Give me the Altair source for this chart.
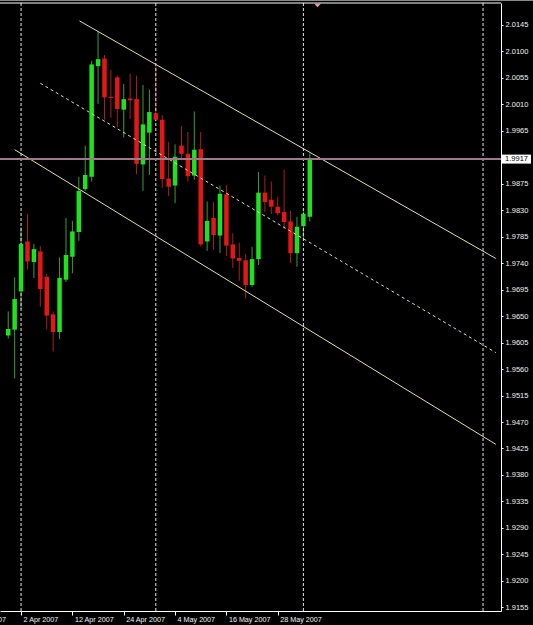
import altair as alt
import pandas as pd

# ---- data (daily GBP/USD-like candles) ----
bars = list(range(48))
opens = [1.9617, 1.9627, 1.9692, 1.9777, 1.9742, 1.9760, 1.9717, 1.9653, 1.9623, 1.9712,
         1.9751, 1.9793, 1.9866, 1.9887, 2.0075, 2.0088, 2.0023, 2.0056, 2.0001, 2.0020,
         2.0019, 1.9908, 1.9962, 1.9995, 1.9984, 1.9884, 1.9872, 1.9940, 1.9926, 1.9889,
         1.9934, 1.9777, 1.9817, 1.9787, 1.9857, 1.9772, 1.9749, 1.9745, 1.9703, 1.9747,
         1.9860, 1.9848, 1.9836, 1.9827, 1.9811, 1.9757, 1.9803, 1.9819]
highs = [1.9658, 1.9716, 1.9801, 1.9824, 1.9773, 1.9769, 1.9722, 1.9658, 1.9750, 1.9817,
         1.9812, 1.9887, 1.9940, 2.0084, 2.0134, 2.0094, 2.0069, 2.0059, 2.0045, 2.0062,
         2.0059, 2.0043, 2.0035, 2.0075, 1.9992, 1.9946, 1.9942, 1.9973, 1.9963, 1.9998,
         1.9963, 1.9845, 1.9844, 1.9872, 1.9873, 1.9791, 1.9775, 1.9756, 1.9768, 1.9895,
         1.9889, 1.9879, 1.9853, 1.9899, 1.9829, 1.9819, 1.9828, 1.9927]
lows = [1.9612, 1.9544, 1.9662, 1.9729, 1.9715, 1.9666, 1.9628, 1.9590, 1.9611, 1.9708,
        1.9723, 1.9778, 1.9863, 1.9879, 2.0011, 1.9984, 1.9987, 1.9971, 1.9954, 1.9985,
        1.9891, 1.9863, 1.9890, 1.9981, 1.9868, 1.9854, 1.9842, 1.9918, 1.9879, 1.9882,
        1.9769, 1.9761, 1.9763, 1.9757, 1.9752, 1.9732, 1.9710, 1.9680, 1.9700, 1.9737,
        1.9827, 1.9824, 1.9822, 1.9798, 1.9740, 1.9734, 1.9780, 1.9811]
closes = [1.9628, 1.9679, 1.9773, 1.9743, 1.9764, 1.9696, 1.9651, 1.9623, 1.9715, 1.9754,
          1.9794, 1.9863, 1.9890, 2.0078, 2.0087, 2.0022, 2.0021, 2.0002, 2.0019, 2.0017,
          1.9909, 1.9976, 1.9997, 1.9984, 1.9883, 1.9870, 1.9921, 1.9926, 1.9888, 1.9933,
          1.9772, 1.9812, 1.9788, 1.9858, 1.9770, 1.9748, 1.9744, 1.9703, 1.9747, 1.9860,
          1.9844, 1.9836, 1.9825, 1.9810, 1.9757, 1.9802, 1.9824, 1.9917]

# x-axis date labels (bar positions) and the clipped one at the far left
date_pos = [2, 10, 18, 26, 34, 42]
date_labels = ["2 Apr 2007", "12 Apr 2007", "24 Apr 2007", "4 May 2007", "16 May 2007", "28 May 2007"]
clipped_pos = [-6]
clipped_labels = ["21 Mar 2007"]

# y-axis tick labels (1.9920 is covered by the current-price tag)
y_ticks = [1.9155, 1.9200, 1.9245, 1.9290, 1.9335, 1.9380, 1.9425, 1.9470, 1.9515, 1.9560,
           1.9605, 1.9650, 1.9695, 1.9740, 1.9785, 1.9830, 1.9875, 1.9965, 2.0010, 2.0055,
           2.0100, 2.0145]

# period separators (bar positions)
sep_pos = [2, 23, 46, 74]

# channel lines (bar position, price)
upper_x = [11.1, 76.0]
upper_y = [2.0152, 1.9748]
mid_x = [5.0, 76.0]
mid_y = [2.0046, 1.9588]
lower_x = [1.0, 76.0]
lower_y = [1.9933, 1.9432]

current_price = [1.9917]
shift_pos = [48.2]

# ---- styling ----
W, H = 501, 608
FONT = "Liberation Sans"
GREEN_BODY, RED_BODY = "#1fe21f", "#e41616"
GREEN_WICK, RED_WICK = "#3a9e3a", "#a82020"
CHANNEL = "#e2dea4"
BID = "#9c7a8a"

df = pd.DataFrame({"i": bars, "open": opens, "high": highs, "low": lows, "close": closes})

xscale = alt.Scale(domain=[-0.504, 76.02], nice=False, zero=False)
yscale = alt.Scale(domain=[1.91487, 2.01824], nice=False, zero=False)

label_expr = " : ".join(f"datum.value == {p} ? '{l}'" for p, l in zip(date_pos, date_labels)) + " : ''"

x_axis = alt.Axis(orient="bottom", values=date_pos, labelExpr=label_expr, grid=False, title=None,
                  domainColor="#ffffff", domainWidth=1, tickColor="#ffffff", tickSize=4, tickWidth=1,
                  labelColor="#f2f2f2", labelFont=FONT, labelFontSize=7.2, labelAlign="left",
                  labelBaseline="middle", labelPadding=4.5, labelOffset=2,
                  labelOverlap=False, labelFlush=False, labelBound=False)
y_axis = alt.Axis(orient="right", values=y_ticks, format=".4f", grid=False, title=None,
                  domainColor="#ffffff", domainWidth=1, tickColor="#ffffff", tickSize=2,
                  labelColor="#f2f2f2", labelFont=FONT, labelFontSize=7.5, labelPadding=2,
                  labelBaseline="middle", labelOverlap=False, labelFlush=False, labelBound=False)

X = alt.X("i:Q", scale=xscale, axis=x_axis)
is_up = "datum.close >= datum.open"

wicks = alt.Chart(df).mark_rule(strokeWidth=1).encode(
    x=X,
    y=alt.Y("low:Q", scale=yscale, axis=y_axis),
    y2="high:Q",
    color=alt.condition(is_up, alt.value(GREEN_WICK), alt.value(RED_WICK)),
)

bodies = alt.Chart(df).mark_bar(width=4.5, strokeWidth=0).encode(
    x=X,
    y=alt.Y("open:Q", scale=yscale, axis=y_axis),
    y2="close:Q",
    color=alt.condition(is_up, alt.value(GREEN_BODY), alt.value(RED_BODY)),
)

seps = alt.Chart(pd.DataFrame({"i": sep_pos})).mark_rule(
    color="#e6e6e6", strokeWidth=1, strokeDash=[3, 2]
).encode(x=X)

bid = alt.Chart(pd.DataFrame({"p": current_price})).mark_rule(color=BID, strokeWidth=2).encode(
    y=alt.Y("p:Q", scale=yscale, axis=y_axis))

def line(xs, ys, dash=None):
    kw = dict(color=CHANNEL, strokeWidth=1, clip=True)
    if dash:
        kw["strokeDash"] = dash
    return alt.Chart(pd.DataFrame({"i": xs, "p": ys})).mark_line(**kw).encode(
        x=X, y=alt.Y("p:Q", scale=yscale, axis=y_axis))

upper = line(upper_x, upper_y)
lower = line(lower_x, lower_y)
middle = line(mid_x, mid_y, [3, 3])

price_df = pd.DataFrame({"p": current_price, "t": [f"{v:.4f}" for v in current_price]})
price_box = alt.Chart(price_df).mark_point(
    shape="M-1,-0.31L1,-0.31L1,0.31L-1,0.31Z", size=841, filled=True, color="#ffffff", opacity=1
).encode(x=alt.value(W + 15.5), y=alt.Y("p:Q", scale=yscale, axis=y_axis))
price_txt = alt.Chart(price_df).mark_text(
    font=FONT, fontSize=7.5, color="#000000", align="center", baseline="middle"
).encode(x=alt.value(W + 15.5), y=alt.Y("p:Q", scale=yscale, axis=y_axis), text="t:N")

left_lbl = alt.Chart(pd.DataFrame({"i": clipped_pos, "t": clipped_labels})).mark_text(
    font=FONT, fontSize=7.2, color="#f2f2f2", align="left", baseline="middle", dx=-4
).encode(x=X, y=alt.value(H + 8.5), text="t:N")

shift = alt.Chart(pd.DataFrame({"i": shift_pos})).mark_point(
    shape="M-1,-0.5L1,-0.5L0,0.5Z", size=44, filled=True, color="#f08cc4", opacity=1
).encode(x=X, y=alt.value(2.5))

frame_top = alt.Chart(pd.DataFrame({"k": [0]})).mark_rule(color="#8a8a8a", strokeWidth=2).encode(
    x=alt.value(0), x2=alt.value(533), y=alt.value(-3))
border_top = alt.Chart(pd.DataFrame({"k": [0]})).mark_rule(color="#ffffff", strokeWidth=1).encode(
    x=alt.value(0), x2=alt.value(W), y=alt.value(0))

chart = alt.layer(
    wicks, seps, bodies, upper, middle, lower, bid, price_box, price_txt, left_lbl, shift,
    frame_top, border_top
).properties(
    width=W, height=H,
    background="#000000",
    padding={"left": 0, "top": 3, "right": 32, "bottom": 14},
    autosize=alt.AutoSizeParams(type="none"),
).configure_view(stroke=None)

chart.save("out.html", embed_options={"renderer": "svg", "actions": False})
